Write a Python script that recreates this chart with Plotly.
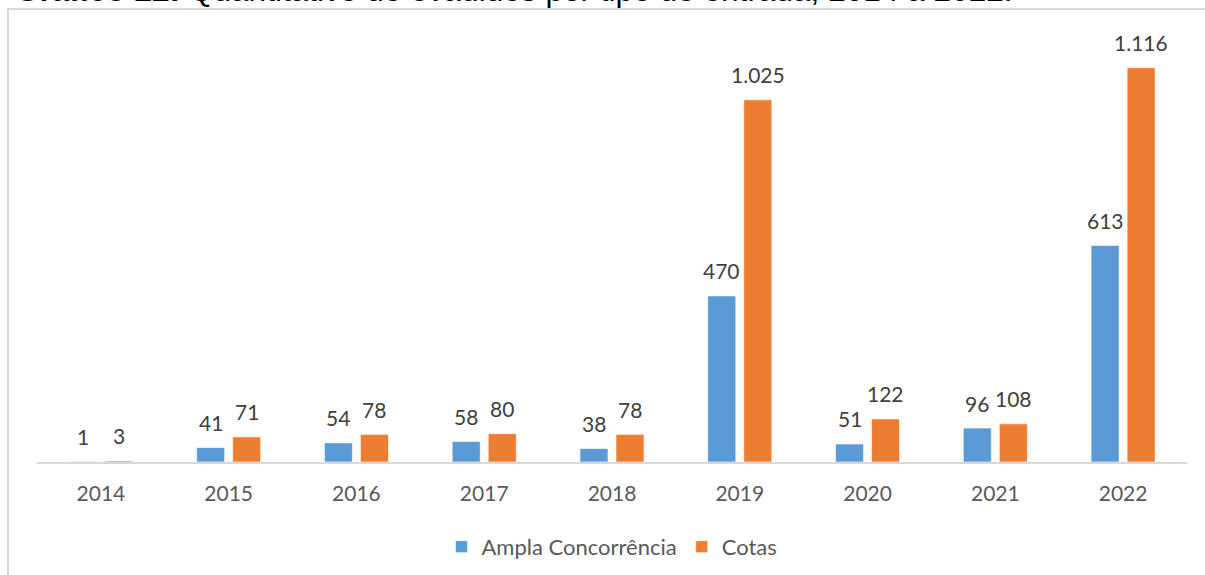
import plotly.graph_objects as go

anos = ['2014', '2015', '2016', '2017', '2018', '2019', '2020', '2021', '2022']
ampla = [1, 41, 54, 58, 38, 470, 51, 96, 613]
cotas = [3, 71, 78, 80, 78, 1025, 122, 108, 1116]

AZUL = '#5B9BD5'
LARANJA = '#ED7D31'
FONTE = 'Lato'

fig = go.Figure()
fig.add_trace(go.Bar(x=anos, y=ampla, name='Ampla Concorrência', marker_color=AZUL,
                     marker_line=dict(color='rgba(255,255,255,0.6)', width=1)))
fig.add_trace(go.Bar(x=anos, y=cotas, name='Cotas', marker_color=LARANJA,
                     marker_line=dict(color='rgba(255,255,255,0.6)', width=1)))


def fmt(v):
    return f'{v:,}'.replace(',', '.')


# rótulos de dados acima das barras (x pelo índice da categoria)
for serie, dx in ((ampla, -18), (cotas, 18)):
    for i, v in enumerate(serie):
        fig.add_annotation(x=i, y=v, text=fmt(v), showarrow=False,
                           xshift=dx, yshift=25, yanchor='middle',
                           font=dict(family=FONTE, size=21, color='#404040'))

# título (cortado no topo da imagem)
fig.add_annotation(xref='paper', yref='paper', x=-0.021, y=1.067,
                   xanchor='left', yanchor='bottom', showarrow=False,
                   text='<b>Gráfico 22:</b> Quantitativo de evadidos por tipo de entrada, 2014 a 2022.',
                   font=dict(family='Liberation Sans', size=31.6, color='#000000'))

# moldura do gráfico
fig.add_shape(type='path', xref='paper', yref='paper',
              path='M -0.0252,-0.4 L -0.0252,1.0685 L 1.05,1.0685',
              line=dict(color='#d9d9d9', width=2))

fig.update_layout(
    width=1205, height=575,
    margin=dict(l=37, r=18, t=38, b=113, autoexpand=False),
    paper_bgcolor='white', plot_bgcolor='white',
    barmode='group', bargap=0.436, bargroupgap=0.222,
    showlegend=True,
    legend=dict(orientation='h', x=0.5, xanchor='center',
                yref='container', y=0.049, yanchor='middle',
                font=dict(family=FONTE, size=22, color='#595959'), itemwidth=30),
    font=dict(family=FONTE),
)
fig.update_xaxes(type='category', showline=True, linecolor='#d9d9d9', linewidth=2,
                 showgrid=False, ticks='', automargin=False,
                 tickfont=dict(family=FONTE, size=21, color='#595959'),
                 ticklabelstandoff=12)
fig.update_yaxes(range=[0, 1200], visible=False, showgrid=False, zeroline=False)

fig.write_html('out.html', config={'displayModeBar': False},
               post_script="document.body.style.margin='0';")
